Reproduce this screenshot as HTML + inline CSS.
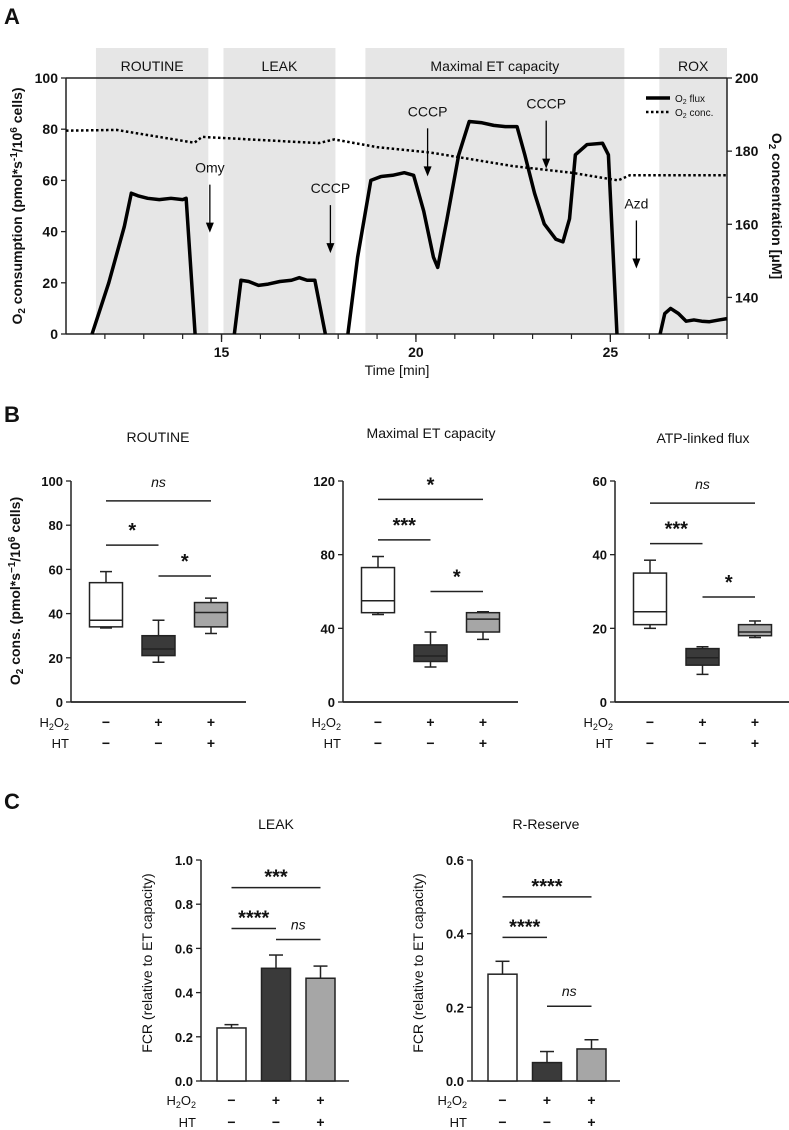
<!DOCTYPE html>
<html><head><meta charset="utf-8"><style>
html,body{margin:0;padding:0;background:#fff;}
svg{display:block;font-family:"Liberation Sans Narrow","Liberation Sans",Arial,sans-serif;}
text{fill:#111;}
</style></head><body>
<svg id="fig" width="789" height="1130" viewBox="0 0 789 1130" xmlns="http://www.w3.org/2000/svg">
<text x="4" y="24" font-size="22" font-weight="bold">A</text>
<text x="4" y="422" font-size="22" font-weight="bold">B</text>
<text x="4" y="809" font-size="22" font-weight="bold">C</text>
<g id="pa"></g>
<g id="pb"></g>
<g id="pc"></g>
</svg>
<script>
// ===== Panel A data =====
const phaseNames = ["ROUTINE","LEAK","Maximal ET capacity","ROX"];
const phaseStart = [11.77,15.05,18.7,26.26];
const phaseEnd = [14.66,17.93,25.36,28];
const flux1T = [11.67,12.1,12.5,12.68,12.85,13.1,13.4,13.7,14.0,14.09,14.32];
const flux1V = [0,20,42,55,54,53,52.5,53,52.5,53,0];
const flux2T = [15.33,15.5,15.7,15.95,16.2,16.5,16.8,17.0,17.2,17.4,17.67];
const flux2V = [0,21,20.5,19,19.5,20.5,21,22,21,21,0];
const flux3T = [18.25,18.5,18.84,19.1,19.4,19.7,19.94,20.2,20.45,20.56,20.8,21.1,21.37,21.7,22.0,22.3,22.6,22.8,23.05,23.3,23.6,23.78,23.95,24.1,24.4,24.8,24.95,25.17];
const flux3V = [0,30,60,61.5,62,63,62,48,30,26,45,70,83,82.5,81.5,81,81,70,55,43,37,36,45,70,74,74.5,70,0];
const flux4T = [26.28,26.4,26.55,26.75,26.95,27.15,27.35,27.55,27.8,28.0];
const flux4V = [0,8,10,8,5,5.5,5,4.8,5.5,6];
const concT = [11,12.3,14.3,14.5,17.5,17.9,19.0,20.3,20.5,22.5,24.0,25.2,25.5,28];
const concV = [185.6,185.8,182.3,183.9,182.2,183.2,181.1,179.7,179.4,175.9,174.1,172,173.4,173.4];
const xTicks = [15,20,25];
const yTicksL = [0,20,40,60,80,100];
const yTicksR = [140,160,180,200];
const arrowNames = ["Omy","CCCP","CCCP","CCCP","Azd"];
const arrowT = [14.7,17.8,20.3,23.35,25.67];
const arrowTopV = [56,48,78,81,42];

// ===== Panel B data =====
const bTitles = ["ROUTINE","Maximal ET capacity","ATP-linked flux"];
const bMax = [100,120,60];
const bTicks = [[0,20,40,60,80,100],[0,40,80,120],[0,20,40,60]];
const bWhiskLo = [[33.5,18,31],[47.5,19,34],[20,7.5,17.5]];
const bQ1 = [[34,21,34],[48.5,22,38],[21,10,18]];
const bMed = [[37,24,40.5],[55,25,45],[24.5,12,19]];
const bQ3 = [[54,30,45],[73,31,48.5],[35,14.5,21]];
const bWhiskHi = [[59,37,47],[79,38,49],[38.5,15,22]];
const bSigLabels = [["ns","*","*"],["*","***","*"],["ns","***","*"]];
const bSigY = [[91,71,57],[110,88,60],[54,43,28.5]];

// ===== Panel C data =====
const cTitles = ["LEAK","R-Reserve"];
const cMax = [1.0,0.6];
const cTicks = [["0.0","0.2","0.4","0.6","0.8","1.0"],["0.0","0.2","0.4","0.6"]];
const cMean = [[0.24,0.51,0.465],[0.29,0.05,0.087]];
const cErr = [[0.015,0.06,0.055],[0.035,0.03,0.025]];
const cSigLabels = [["***","****","ns"],["****","****","ns"]];
const cSigY = [[0.875,0.69,0.64],[0.5,0.39,0.203]];

const sigPairs = [[0,2],[0,1],[1,2]];
const fills = ["#ffffff","#3a3a3a","#a6a6a6"];
const NS = "http://www.w3.org/2000/svg";
function mk(parent, tag, attrs, txt){
  const e = document.createElementNS(NS, tag);
  for (const k in attrs) e.setAttribute(k, attrs[k]);
  if (txt !== undefined) e.textContent = txt;
  parent.appendChild(e);
  return e;
}

// ===== Panel A =====
(function(){
  const g = document.getElementById('pa');
  const X0=66,X1=727,Y0=334,Y1=78;
  const xs = t => X0 + (t-11)/(28-11)*(X1-X0);
  const yl = v => Y0 - v/100*(Y0-Y1);
  const yr = v => Y0 - (v-130)/70*(Y0-Y1);
  for (let i=0;i<phaseNames.length;i++){
    const r = mk(g,'rect',{x:xs(phaseStart[i]),y:48,width:xs(phaseEnd[i])-xs(phaseStart[i]),height:Y0-48,fill:'#e6e6e6'});
    
    
    const t = mk(g,'text',{x:(xs(phaseStart[i])+xs(phaseEnd[i]))/2,y:71,'font-size':14,'text-anchor':'middle'},phaseNames[i]);
    
    
  }
  mk(g,'line',{x1:X0,y1:Y1,x2:X1,y2:Y1,stroke:'#222','stroke-width':1.5});
  mk(g,'line',{x1:X0,y1:Y0,x2:X1,y2:Y0,stroke:'#222','stroke-width':1.5});
  mk(g,'line',{x1:X0,y1:Y0,x2:X0,y2:Y1,stroke:'#222','stroke-width':1.5});
  mk(g,'line',{x1:X1,y1:Y0,x2:X1,y2:Y1,stroke:'#222','stroke-width':1.5});
  for (let t=12;t<=28;t++) mk(g,'line',{x1:xs(t),y1:Y0,x2:xs(t),y2:Y0+5,stroke:'#222','stroke-width':1.2});
  for (const t of xTicks){
    mk(g,'line',{x1:xs(t),y1:Y0,x2:xs(t),y2:Y0+8,stroke:'#222','stroke-width':1.3});
    const e = mk(g,'text',{x:xs(t),y:357,'font-size':14,'text-anchor':'middle','font-weight':'bold'},t);
    
    
  }
  for (const v of yTicksL){
    mk(g,'line',{x1:X0-5,y1:yl(v),x2:X0,y2:yl(v),stroke:'#222','stroke-width':1.3});
    const e = mk(g,'text',{x:X0-8,y:yl(v)+5,'font-size':14,'text-anchor':'end','font-weight':'bold'},v);
    
    
  }
  for (const v of yTicksR){
    mk(g,'line',{x1:X1,y1:yr(v),x2:X1+5,y2:yr(v),stroke:'#222','stroke-width':1.3});
    const e = mk(g,'text',{x:X1+8,y:yr(v)+5,'font-size':14,'font-weight':'bold'},v);
    
    
  }
  const segs=[[flux1T,flux1V],[flux2T,flux2V],[flux3T,flux3V],[flux4T,flux4V]];
  segs.forEach((s,i)=>{
    const p = mk(g,'polyline',{points:s[0].map((t,j)=>xs(t)+','+yl(s[1][j])).join(' '),fill:'none',stroke:'#000','stroke-width':3.5,'stroke-linejoin':'round'});
    
    
  });
  const c = mk(g,'polyline',{points:concT.map((t,j)=>xs(t)+','+yr(concV[j])).join(' '),fill:'none',stroke:'#000','stroke-width':2.5,'stroke-dasharray':'2.5 2.5'});
  
  
  for (let i=0;i<arrowNames.length;i++){
    const x = xs(arrowT[i]), yt = yl(arrowTopV[i]);
    const t = mk(g,'text',{x:x,y:yt-18,'font-size':14,'text-anchor':'middle'},arrowNames[i]);
    
    
    mk(g,'line',{x1:x,y1:yt-6,x2:x,y2:yt+36,stroke:'#000','stroke-width':1.3});
    mk(g,'path',{d:`M${x-4},${yt+32} L${x+4},${yt+32} L${x},${yt+42} Z`,fill:'#000'});
  }
  const lg = mk(g,'g',{});
  
  
  mk(lg,'line',{x1:646,y1:98,x2:670,y2:98,stroke:'#000','stroke-width':3.5});
  mk(lg,'text',{x:675,y:102,'font-size':10},'').innerHTML='O<tspan font-size="7" dy="2">2</tspan><tspan dy="-2"> flux</tspan>';
  mk(lg,'line',{x1:646,y1:112,x2:670,y2:112,stroke:'#000','stroke-width':2.5,'stroke-dasharray':'2.5 2.5'});
  mk(lg,'text',{x:675,y:116,'font-size':10},'').innerHTML='O<tspan font-size="7" dy="2">2</tspan><tspan dy="-2"> conc.</tspan>';
  const xt = mk(g,'text',{x:397,y:375,'font-size':14,'text-anchor':'middle'},'Time [min]');
  
  
  const yt1 = mk(g,'text',{transform:'translate(22,206) rotate(-90)','font-size':14,'text-anchor':'middle','font-weight':'bold'},'');
  yt1.innerHTML='O<tspan font-size="10" dy="3">2</tspan><tspan dy="-3"> consumption (pmol*s</tspan><tspan font-size="10" dy="-5">-1</tspan><tspan dy="5">/10</tspan><tspan font-size="10" dy="-5">6</tspan><tspan dy="5"> cells)</tspan>';
  
  
  const yt2 = mk(g,'text',{transform:'translate(772,206) rotate(90)','font-size':14,'text-anchor':'middle','font-weight':'bold'},'');
  yt2.innerHTML='O<tspan font-size="10" dy="3">2</tspan><tspan dy="-3"> concentration [μM]</tspan>';
  
  
})();

function condRows(g, cx, labelX, y1, y2, ids){
  const h = mk(g,'text',{x:labelX,y:y1+5,'font-size':13,'text-anchor':'end'},'');
  h.innerHTML='H<tspan font-size="9" dy="3">2</tspan><tspan dy="-3">O</tspan><tspan font-size="9" dy="3">2</tspan>';
  
  
  const ht = mk(g,'text',{x:labelX,y:y2+5,'font-size':13,'text-anchor':'end'},'HT');
  
  
  const r1=['−','+','+'], r2=['−','−','+'];
  for (let i=0;i<3;i++){
    mk(g,'text',{x:cx[i],y:y1+5,'font-size':14,'text-anchor':'middle','font-weight':'bold'},r1[i]);
    mk(g,'text',{x:cx[i],y:y2+5,'font-size':14,'text-anchor':'middle','font-weight':'bold'},r2[i]);
  }
}

// ===== Panel B =====
(function(){
  const g = document.getElementById('pb');
  const axX=[71,343,615], Y0=702, Y1=481;
  const titleX=[158,431,703], titleY=[442,438,443];
  for (let p=0;p<3;p++){
    const sub = mk(g,'g',{});
    
    
    const ys = v => Y0 - v/bMax[p]*(Y0-Y1);
    const cx = [axX[p]+35, axX[p]+87.5, axX[p]+140];
    mk(sub,'text',{x:titleX[p],y:titleY[p],'font-size':14,'text-anchor':'middle'},bTitles[p]);
    mk(sub,'line',{x1:axX[p],y1:Y0,x2:axX[p],y2:Y1,stroke:'#222','stroke-width':1.5});
    mk(sub,'line',{x1:axX[p],y1:Y0,x2:axX[p]+175,y2:Y0,stroke:'#222','stroke-width':1.8});
    for (const v of bTicks[p]){
      mk(sub,'line',{x1:axX[p]-5,y1:ys(v),x2:axX[p],y2:ys(v),stroke:'#222','stroke-width':1.3});
      mk(sub,'text',{x:axX[p]-8,y:ys(v)+5,'font-size':13,'text-anchor':'end','font-weight':'bold'},v);
    }
    for (let i=0;i<3;i++){
      const w=33, x=cx[i]-w/2;
      const bx = mk(sub,'g',{});
      
      
      mk(bx,'line',{x1:cx[i],y1:ys(bWhiskLo[p][i]),x2:cx[i],y2:ys(bWhiskHi[p][i]),stroke:'#222','stroke-width':1.5});
      mk(bx,'line',{x1:cx[i]-6,y1:ys(bWhiskLo[p][i]),x2:cx[i]+6,y2:ys(bWhiskLo[p][i]),stroke:'#222','stroke-width':1.5});
      mk(bx,'line',{x1:cx[i]-6,y1:ys(bWhiskHi[p][i]),x2:cx[i]+6,y2:ys(bWhiskHi[p][i]),stroke:'#222','stroke-width':1.5});
      mk(bx,'rect',{x:x,y:ys(bQ3[p][i]),width:w,height:ys(bQ1[p][i])-ys(bQ3[p][i]),fill:fills[i],stroke:'#222','stroke-width':1.5});
      mk(bx,'line',{x1:x,y1:ys(bMed[p][i]),x2:x+w,y2:ys(bMed[p][i]),stroke:'#222','stroke-width':1.5});
    }
    for (let s=0;s<3;s++){
      const a=cx[sigPairs[s][0]], b=cx[sigPairs[s][1]], y=ys(bSigY[p][s]);
      mk(sub,'line',{x1:a,y1:y,x2:b,y2:y,stroke:'#222','stroke-width':1.5});
      const lab=bSigLabels[p][s];
      const t = mk(sub,'text',{x:(a+b)/2,y:lab==='ns'?y-14:y-8,'font-size':lab==='ns'?14:20,'text-anchor':'middle','font-style':lab==='ns'?'italic':'normal','font-weight':lab==='ns'?'normal':'bold'},lab);
      
      
    }
    condRows(sub,cx,axX[p]-2,722,743);
  }
  const yt = mk(g,'text',{transform:'translate(20,591) rotate(-90)','font-size':14,'text-anchor':'middle','font-weight':'bold'},'');
  yt.innerHTML='O<tspan font-size="10" dy="3">2</tspan><tspan dy="-3"> cons. (pmol*s</tspan><tspan font-size="10" dy="-5">−1</tspan><tspan dy="5">/10</tspan><tspan font-size="10" dy="-5">6</tspan><tspan dy="5"> cells)</tspan>';
  
  
})();

// ===== Panel C =====
(function(){
  const g = document.getElementById('pc');
  const axX=[201,472], Y0=1081, Y1=860, titleX=[276,546];
  for (let p=0;p<2;p++){
    const sub = mk(g,'g',{});
    
    
    const ys = v => Y0 - v/cMax[p]*(Y0-Y1);
    const cx = [axX[p]+30.5, axX[p]+75, axX[p]+119.5];
    mk(sub,'text',{x:titleX[p],y:829,'font-size':14,'text-anchor':'middle'},cTitles[p]);
    mk(sub,'line',{x1:axX[p],y1:Y0,x2:axX[p],y2:Y1,stroke:'#222','stroke-width':1.5});
    mk(sub,'line',{x1:axX[p],y1:Y0,x2:axX[p]+148,y2:Y0,stroke:'#222','stroke-width':1.5});
    for (const lab of cTicks[p]){
      const v=parseFloat(lab);
      mk(sub,'line',{x1:axX[p]-5,y1:ys(v),x2:axX[p],y2:ys(v),stroke:'#222','stroke-width':1.3});
      mk(sub,'text',{x:axX[p]-8,y:ys(v)+5,'font-size':13,'text-anchor':'end','font-weight':'bold'},lab);
    }
    for (let i=0;i<3;i++){
      const w=29, x=cx[i]-w/2, m=cMean[p][i], e=cErr[p][i];
      mk(sub,'line',{x1:cx[i],y1:ys(m),x2:cx[i],y2:ys(m+e),stroke:'#222','stroke-width':1.5});
      mk(sub,'line',{x1:cx[i]-7,y1:ys(m+e),x2:cx[i]+7,y2:ys(m+e),stroke:'#222','stroke-width':1.5});
      const r = mk(sub,'rect',{x:x,y:ys(m),width:w,height:Y0-ys(m),fill:fills[i],stroke:'#222','stroke-width':1.5});
      
      
    }
    for (let s=0;s<3;s++){
      const a=cx[sigPairs[s][0]], b=cx[sigPairs[s][1]], y=ys(cSigY[p][s]);
      mk(sub,'line',{x1:a,y1:y,x2:b,y2:y,stroke:'#222','stroke-width':1.5});
      const lab=cSigLabels[p][s];
      const t = mk(sub,'text',{x:(a+b)/2,y:lab==='ns'?y-10:y-4,'font-size':lab==='ns'?14:20,'text-anchor':'middle','font-style':lab==='ns'?'italic':'normal','font-weight':lab==='ns'?'normal':'bold'},lab);
      
      
    }
    condRows(sub,cx,axX[p]-5,1100,1122);
    const yt = mk(sub,'text',{transform:`translate(${axX[p]-49},963) rotate(-90)`,'font-size':14,'text-anchor':'middle'},'FCR (relative to ET capacity)');
    
    
  }
})();
</script>
</body></html>
